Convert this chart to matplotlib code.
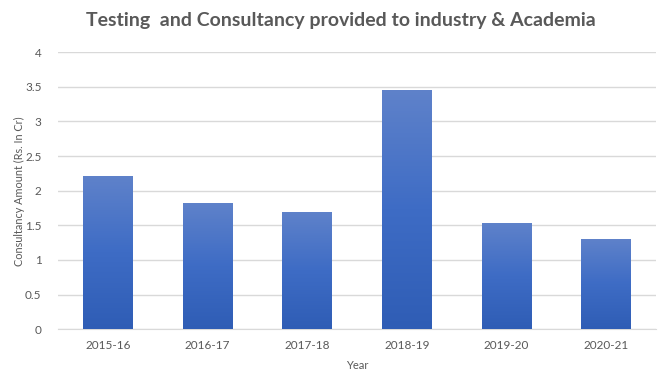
import numpy as np
import matplotlib.pyplot as plt
from matplotlib.colors import LinearSegmentedColormap

plt.rcParams['font.family'] = ['Lato', 'DejaVu Sans']

years = ['2015-16', '2016-17', '2017-18', '2018-19', '2019-20', '2020-21']
amounts = [2.21, 1.82, 1.69, 3.46, 1.535, 1.30]

title = 'Testing  and Consultancy provided to industry & Academia'
text_grey = '#595959'

fig = plt.figure(figsize=(6.7, 3.81), dpi=100)
ax = fig.add_axes([0.087, 0.136, 0.892, 0.727])

x = np.arange(len(years))
bars = ax.bar(x, amounts, width=0.5, color='#3E6CC5', zorder=2)

# vertical gradient inside each bar (light top, darker bottom)
grad = LinearSegmentedColormap.from_list('bar', ['#2F5DB5', '#3E6CC5', '#5F82CA'])
ramp = np.linspace(0, 1, 256).reshape(-1, 1)
for b in bars:
    x0, y0 = b.get_x(), b.get_y()
    w, h = b.get_width(), b.get_height()
    im = ax.imshow(ramp, cmap=grad, origin='lower', aspect='auto',
                   extent=[x0, x0 + w, y0, y0 + h], zorder=3)
    im.set_clip_path(b)

ax.set_xlim(-0.5, len(years) - 0.5)
ax.set_ylim(0, 4)
ax.set_yticks(np.arange(0, 4.01, 0.5))
ax.set_yticklabels(['0', '0.5', '1', '1.5', '2', '2.5', '3', '3.5', '4'])
ax.set_xticks(x)
ax.set_xticklabels(years)

ax.grid(axis='y', color='#D9D9D9', linewidth=1, zorder=0)
for s in ['top', 'right', 'left']:
    ax.spines[s].set_visible(False)
ax.spines['bottom'].set_color('#D9D9D9')
ax.tick_params(axis='both', length=0, colors=text_grey, labelsize=8.5)
ax.tick_params(axis='x', pad=8)
ax.tick_params(axis='y', pad=12)

ax.set_ylabel('Consultancy Amount (Rs. In Cr)', color=text_grey, fontsize=7.8)
ax.yaxis.set_label_coords(-0.055, 0.5)
ax.set_xlabel('Year', color=text_grey, fontsize=8, labelpad=6)

fig.text(0.509, 0.946, title, ha='center', va='center', fontsize=14,
         fontweight='bold', color=text_grey)

fig.savefig('out.png', dpi=100, facecolor='white')
